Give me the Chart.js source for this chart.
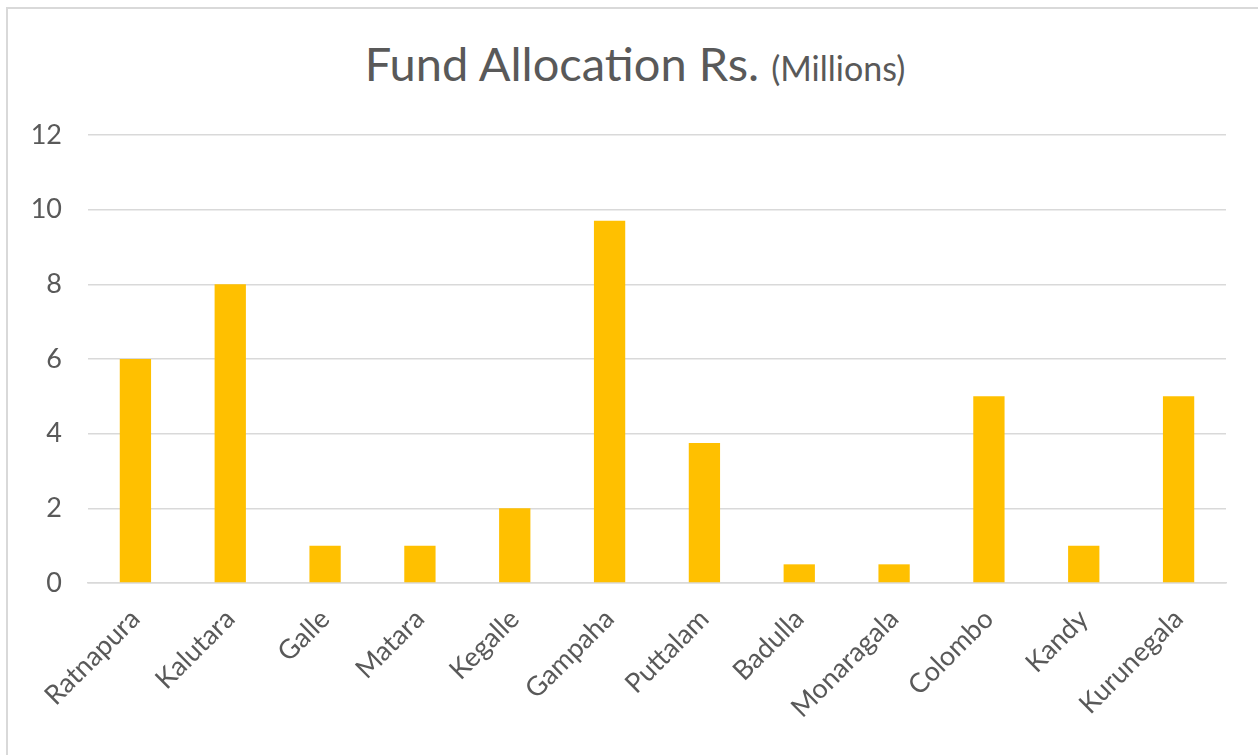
<!DOCTYPE html>
<html>
<head>
<meta charset="utf-8">
<script src="https://cdn.jsdelivr.net/npm/chart.js@4.4.0/dist/chart.umd.min.js"></script>
<style>
  body { margin: 0; overflow: hidden; background: #fff; }
  #frame { position: absolute; left: 6px; top: 7px; width: 1300px; height: 800px; border: 2px solid #d9d9d9; }
  #wrap { position: absolute; left: 0; top: 0; width: 1258px; height: 755px; }
  #title { position: absolute; left: 0; top: 33px; width: 1270px; text-align: center; font-family: Lato, sans-serif; color: #595959; font-size: 47px; line-height: 60px; }
  #title small { font-size: 34px; }
</style>
</head>
<body>
<div id="frame"></div>
<div id="title">Fund Allocation Rs. <small>(Millions)</small></div>
<div id="wrap"><canvas id="chart"></canvas></div>
<script>
const districts = ['Ratnapura', 'Kalutara', 'Galle', 'Matara', 'Kegalle', 'Gampaha', 'Puttalam', 'Badulla', 'Monaragala', 'Colombo', 'Kandy', 'Kurunegala'];
const allocation = [6, 8, 1, 1, 2, 9.7, 3.75, 0.5, 0.5, 5, 1, 5];
const yTicks = [0, 2, 4, 6, 8, 10, 12];

const textColor = '#595959';
const gridColor = '#d9d9d9';

new Chart(document.getElementById('chart'), {
  type: 'bar',
  data: {
    labels: districts,
    datasets: [{
      label: 'Fund Allocation',
      data: allocation,
      backgroundColor: '#ffc000',
      categoryPercentage: 1,
      barPercentage: 0.33,
    }],
  },
  options: {
    responsive: true,
    maintainAspectRatio: false,
    animation: false,
    layout: { padding: { left: 0, right: 32, top: 135, bottom: 0 } },
    plugins: { legend: { display: false }, title: { display: false }, tooltip: { enabled: false } },
    scales: {
      x: {
        grid: { display: false },
        border: { color: gridColor, width: 1.5 },
        ticks: {
          color: textColor,
          font: { family: 'Lato', size: 27 },
          minRotation: 45,
          maxRotation: 45,
          autoSkip: false,
          padding: 12,
        },
        afterFit: (scale) => { scale.height = 172; },
      },
      y: {
        min: 0,
        max: 12,
        afterBuildTicks: (scale) => { scale.ticks = yTicks.map((v) => ({ value: v })); },
        grid: { color: gridColor, lineWidth: 1.5, drawTicks: false },
        border: { display: false },
        ticks: {
          color: textColor,
          font: { family: 'Lato', size: 27 },
          padding: 26,
        },
        afterFit: (scale) => { scale.width = 88; },
      },
    },
  },
});
</script>
</body>
</html>
